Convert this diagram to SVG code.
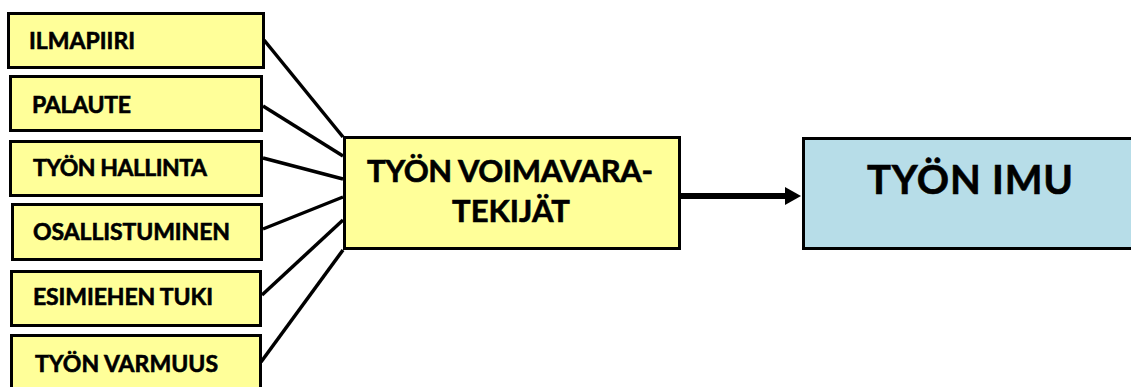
<svg xmlns="http://www.w3.org/2000/svg" width="1131" height="387" viewBox="0 0 1131 387">
  <style>
    .factor rect { fill: #FFFF99; stroke: #000; stroke-width: 3; }
    .hub rect { fill: #FFFF99; stroke: #000; stroke-width: 3; }
    .result rect { fill: #B7DDE8; stroke: #000; stroke-width: 3; }
    text { font-family: Lato, "Open Sans", "Liberation Sans", sans-serif; font-weight: bold; fill: #000; stroke: #000; stroke-width: 0.6; }
    .small { font-size: 23px; }
    .mid { font-size: 31px; }
    .big { font-size: 40px; }
    .link { stroke: #000; stroke-width: 3.5; fill: none; }
    .flow { stroke: #000; stroke-width: 6; fill: none; }
  </style>
  <defs>
    <marker id="head" markerUnits="userSpaceOnUse" markerWidth="18" markerHeight="20" refX="1" refY="9" orient="auto">
      <path d="M0,0 L16,9 L0,18 Z" fill="#000"/>
    </marker>
  </defs>

  <rect width="1131" height="387" fill="#fff"/>

  <!-- connectors -->
  <g id="connectors">
    <line class="link" x1="264" y1="40" x2="343" y2="137"/>
    <line class="link" x1="263" y1="106" x2="343" y2="156"/>
    <line class="link" x1="263" y1="158" x2="343" y2="179"/>
    <line class="link" x1="263" y1="229" x2="343" y2="197"/>
    <line class="link" x1="262" y1="295" x2="343" y2="220"/>
    <line class="link" x1="261" y1="362" x2="343" y2="250"/>
    <line class="flow" x1="681" y1="196" x2="786" y2="196" marker-end="url(#head)"/>
  </g>

  <!-- contributing factors -->
  <g id="ilmapiiri" class="factor">
    <rect x="8.5" y="13.5" width="255" height="54"/>
    <text class="small" x="29" y="49" textLength="106">ILMAPIIRI</text>
  </g>
  <g id="palaute" class="factor">
    <rect x="10.5" y="76.5" width="251" height="54"/>
    <text class="small" x="32" y="113" textLength="99">PALAUTE</text>
  </g>
  <g id="tyon-hallinta" class="factor">
    <rect x="10.5" y="141.5" width="251" height="54"/>
    <text class="small" x="33" y="176" textLength="174">TYÖN HALLINTA</text>
  </g>
  <g id="osallistuminen" class="factor">
    <rect x="12.5" y="204.5" width="249" height="55"/>
    <text class="small" x="33" y="240" textLength="197">OSALLISTUMINEN</text>
  </g>
  <g id="esimiehen-tuki" class="factor">
    <rect x="11.5" y="271.5" width="249" height="54"/>
    <text class="small" x="33" y="305" textLength="180">ESIMIEHEN TUKI</text>
  </g>
  <g id="tyon-varmuus" class="factor">
    <rect x="11.5" y="335.5" width="249" height="60"/>
    <text class="small" x="35" y="372" textLength="183">TYÖN VARMUUS</text>
  </g>

  <!-- central node -->
  <g id="voimavaratekijat" class="hub">
    <rect x="344.5" y="137.5" width="335" height="111"/>
    <text class="mid" x="367" y="182" textLength="286">TYÖN VOIMAVARA-</text>
    <text class="mid" x="511" y="222" text-anchor="middle">TEKIJÄT</text>
  </g>

  <!-- outcome -->
  <g id="tyon-imu" class="result">
    <rect x="803.5" y="138.5" width="340" height="110"/>
    <text class="big" x="867" y="194" textLength="206">TYÖN IMU</text>
  </g>
</svg>
